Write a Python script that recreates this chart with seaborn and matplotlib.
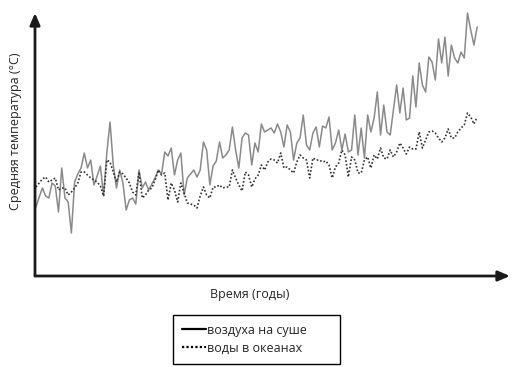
import numpy as np
import pandas as pd
import matplotlib
matplotlib.use("Agg")
import matplotlib.pyplot as plt
from matplotlib.lines import Line2D
import seaborn as sns

# Years and temperature anomalies (°C)
start_year = 1880
land_temp = [
    -0.17, -0.07, 0.02, -0.06, -0.08, 0.07, 0.04, -0.22, 0.22, -0.08,
    -0.12, -0.43, 0.08, 0.16, 0.22, 0.37, 0.22, 0.30, 0.05, 0.14,
    0.24, -0.06, 0.37, 0.68, 0.25, 0.02, 0.20, 0.07, -0.20, -0.10,
    -0.08, -0.14, 0.20, 0.02, 0.08, 0.00, 0.06, 0.12, 0.20, 0.16,
    0.38, 0.34, 0.42, 0.15, 0.30, 0.37, -0.05, 0.12, 0.16, 0.20,
    0.13, 0.20, 0.48, 0.40, 0.05, 0.24, 0.29, 0.48, 0.32, 0.35,
    0.40, 0.63, 0.40, 0.22, 0.52, 0.57, 0.55, 0.25, 0.47, 0.38,
    0.66, 0.58, 0.60, 0.62, 0.57, 0.66, 0.58, 0.43, 0.65, 0.58,
    0.30, 0.47, 0.52, 0.75, 0.45, 0.40, 0.57, 0.63, 0.43, 0.64,
    0.62, 0.73, 0.40, 0.47, 0.60, 0.40, 0.56, 0.38, 0.40, 0.75,
    0.35, 0.62, 0.32, 0.75, 0.58, 0.72, 0.98, 0.55, 0.85, 0.58,
    0.55, 0.80, 1.05, 0.77, 1.02, 0.70, 0.72, 1.14, 0.83, 1.27,
    1.05, 0.98, 1.33, 1.28, 1.10, 1.51, 1.27, 1.53, 1.14, 1.45,
    1.32, 1.27, 1.38, 1.32, 1.77, 1.60, 1.45, 1.63,
]
ocean_temp = [
    0.03, 0.07, 0.11, 0.13, 0.08, 0.10, 0.12, 0.00, 0.02, 0.02,
    -0.05, -0.02, 0.02, 0.07, 0.18, 0.18, 0.15, 0.12, 0.10, 0.08,
    0.04, -0.06, 0.30, 0.28, 0.18, 0.08, 0.18, 0.16, 0.12, 0.07,
    -0.02, -0.05, 0.18, -0.08, -0.05, 0.00, 0.02, 0.10, 0.20, 0.15,
    0.17, -0.10, 0.07, 0.00, -0.12, 0.07, -0.03, -0.13, -0.14, -0.15,
    -0.18, -0.06, 0.03, -0.05, -0.08, 0.03, 0.03, 0.05, 0.02, 0.03,
    0.03, 0.20, 0.12, 0.05, -0.01, 0.18, 0.15, 0.03, 0.11, 0.15,
    0.25, 0.20, 0.28, 0.31, 0.30, 0.27, 0.37, 0.22, 0.23, 0.20,
    0.17, 0.28, 0.35, 0.32, 0.30, 0.12, 0.32, 0.30, 0.30, 0.28,
    0.29, 0.25, 0.12, 0.23, 0.27, 0.40, 0.35, 0.13, 0.33, 0.30,
    0.17, 0.17, 0.30, 0.33, 0.22, 0.35, 0.31, 0.42, 0.32, 0.31,
    0.40, 0.33, 0.38, 0.47, 0.42, 0.36, 0.43, 0.41, 0.41, 0.58,
    0.42, 0.50, 0.58, 0.59, 0.57, 0.52, 0.48, 0.52, 0.61, 0.52,
    0.52, 0.58, 0.62, 0.65, 0.77, 0.73, 0.66, 0.73,
]
years = list(range(start_year, start_year + len(land_temp)))

labels = ["воздуха на суше", "воды в океанах"]

df = pd.DataFrame({"year": years, "land": land_temp, "ocean": ocean_temp})

sns.set_style("white")
plt.rcParams["font.family"] = ["Open Sans", "DejaVu Sans"]

fig = plt.figure(figsize=(5.13, 3.67), dpi=100)
ax = fig.add_axes([35 / 513, 1 - 276 / 367, 475 / 513, 263 / 367])

sns.lineplot(data=df, x="year", y="land", ax=ax, color="#8a8a8a",
             linewidth=1.1, clip_on=False)
sns.lineplot(data=df, x="year", y="ocean", ax=ax, color="#333333",
             linewidth=1.2, linestyle=(0, (1, 1.2)), clip_on=False)

ax.set_xlim(start_year - 0.3, start_year + 147.2)
ax.set_ylim(-0.86, 1.77)
ax.set_xticks([])
ax.set_yticks([])
for s in ax.spines.values():
    s.set_visible(False)

# Axis arrows
arrow = dict(arrowstyle="-|>,head_length=0.7,head_width=0.3", color="#1a1a1a",
             linewidth=2, shrinkA=0, shrinkB=0)
ax.annotate("", xy=(0, 1), xytext=(0, 0), xycoords="axes fraction",
            arrowprops=arrow, annotation_clip=False)
ax.annotate("", xy=(1, 0), xytext=(0, 0), xycoords="axes fraction",
            arrowprops=arrow, annotation_clip=False)

ax.set_xlabel("Время (годы)", fontsize=9)
ax.set_ylabel("Средняя температура (°C)", fontsize=9)
ax.xaxis.set_label_coords((250 - 35) / 475, -0.045)
ax.yaxis.set_label_coords(-0.028, (276 - 131) / 263)

handles = [Line2D([], [], color="black", linewidth=1.6),
           Line2D([], [], color="black", linewidth=1.6, linestyle=(0, (1, 1)))]
fig.legend(handles, labels, loc="upper left",
           bbox_to_anchor=(173 / 513, 0.0, 167 / 513, 1 - 315 / 367),
           mode="expand", fontsize=9, frameon=True, fancybox=False,
           edgecolor="black", framealpha=1, handlelength=1.9,
           handletextpad=0.1, labelspacing=0.4, borderpad=0.7,
           borderaxespad=0)
fig.legends[0].get_frame().set_linewidth(1.0)

fig.savefig("out.png", dpi=100)
